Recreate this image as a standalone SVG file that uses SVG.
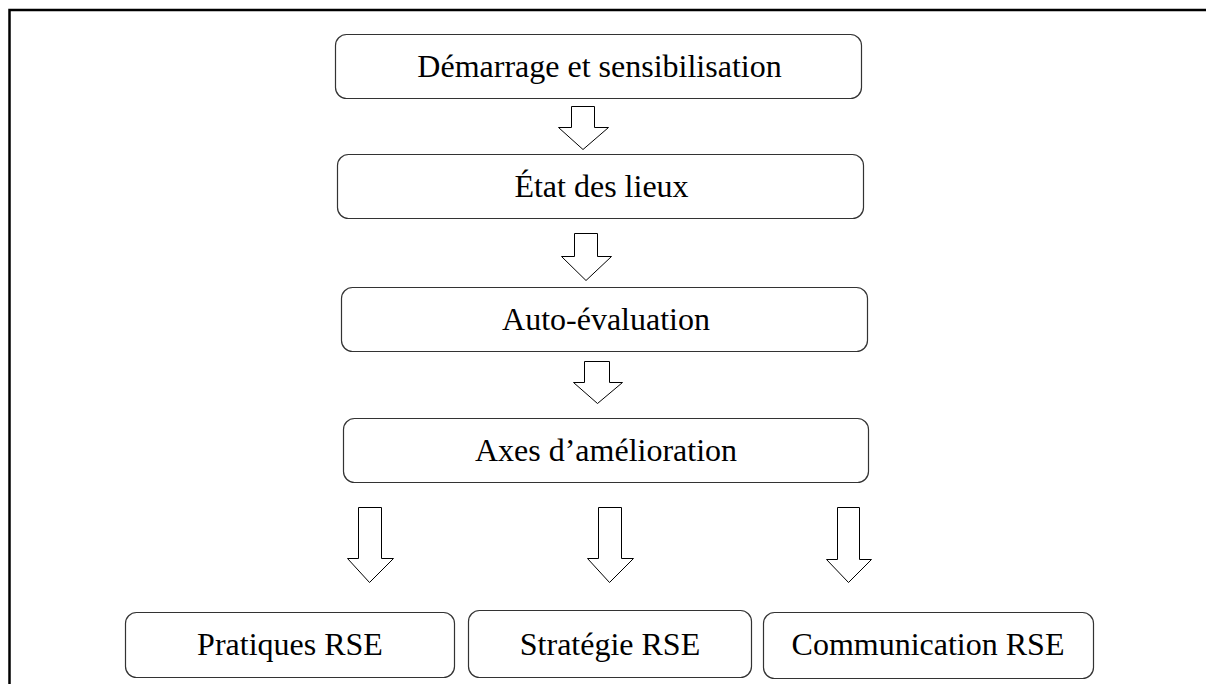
<svg xmlns="http://www.w3.org/2000/svg" width="1206" height="684" viewBox="0 0 1206 684">
<style>
.box{fill:#fff;stroke:#333;stroke-width:1.2}
.arr{fill:#fff;stroke:#000;stroke-width:1}
text{font-family:"Liberation Serif","Times New Roman",serif;font-size:32px;fill:#000;text-anchor:middle}
</style>
<rect width="1206" height="684" fill="#fff"/>
<path d="M9.5 684 V10 H1206" fill="none" stroke="#000" stroke-width="2.5"/>
<g id="n1"><rect class="box" x="335.5" y="34.5" width="526" height="64" rx="11"/><text x="599.5" y="77">Démarrage et sensibilisation</text></g>
<g id="n2"><rect class="box" x="337.5" y="154.5" width="526" height="64" rx="11"/><text x="601.5" y="197">État des lieux</text></g>
<g id="n3"><rect class="box" x="341.5" y="287.5" width="526" height="64" rx="11"/><text x="606" y="330">Auto-évaluation</text></g>
<g id="n4"><rect class="box" x="343.5" y="418.5" width="525" height="64" rx="11"/><text x="606" y="461">Axes d’amélioration</text></g>
<g id="n5"><rect class="box" x="125.5" y="612.5" width="329" height="65" rx="11"/><text x="290" y="655">Pratiques RSE</text></g>
<g id="n6"><rect class="box" x="468.5" y="610.5" width="283" height="67" rx="11"/><text x="610" y="655">Stratégie RSE</text></g>
<g id="n7"><rect class="box" x="763.5" y="612.5" width="330" height="66" rx="11"/><text x="928" y="655">Communication RSE</text></g>
<g id="connectors">
<path class="arr" d="M571.5 106.5 H594.5 V127.5 H608.5 L583 149.5 L558.5 127.5 H571.5 Z"/>
<path class="arr" d="M574.5 233.5 H597.5 V256.5 H611.5 L586 280.5 L561.5 256.5 H574.5 Z"/>
<path class="arr" d="M584.5 361.5 H609.5 V382.5 H622.5 L597.5 403.5 L573.5 382.5 H584.5 Z"/>
<path class="arr" d="M358.5 507.5 H381.5 V558.5 H393.5 L369.5 582.5 L347.5 558.5 H358.5 Z"/>
<path class="arr" d="M598.5 507.5 H621.5 V558.5 H633.5 L609.5 582.5 L587.5 558.5 H598.5 Z"/>
<path class="arr" d="M837.5 507.5 H859.5 V559.5 H871.5 L848.5 582.5 L826.5 559.5 H837.5 Z"/>
</g>
</svg>
